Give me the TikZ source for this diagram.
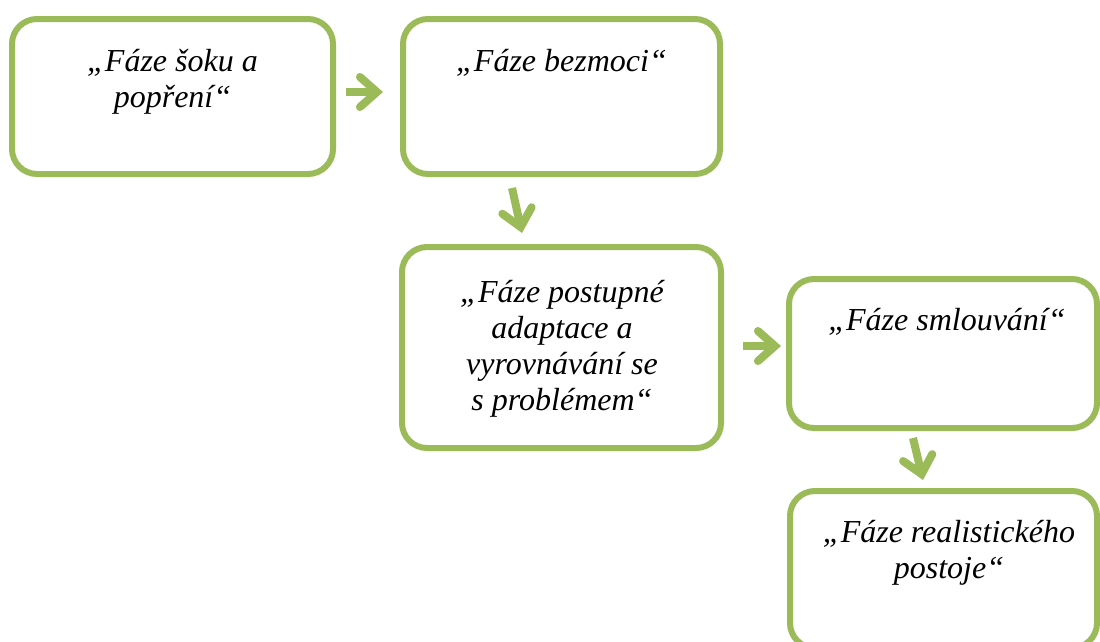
\documentclass[tikz,border=0pt]{standalone}
\usepackage{fontspec}
\setmainfont{Liberation Serif}
\usetikzlibrary{arrows.meta}
\definecolor{sgreen}{HTML}{9BBB59}
\tikzset{
  box/.style={draw=sgreen, line width=6pt, rounded corners=25pt, rectangle, outer sep=0pt, inner sep=0pt, fill=white},
  txt/.style={anchor=base, inner sep=0pt, font=\fontsize{32}{36}\selectfont\itshape},
  conn/.style={draw=sgreen, line width=8pt, -{Straight Barb[length=17pt,width=30pt,line join=miter,line cap=round]}}
}
\begin{document}
\begin{tikzpicture}[x=1pt,y=-1pt]
\useasboundingbox (0,0) rectangle (1100,641);
\clip (0,0) rectangle (1100,641);
\fill[white] (0,0) rectangle (1100,641);
% boxes
\node[box, minimum width=321pt, minimum height=155pt] (A) at (172.5,96.5) {};
\node[box, minimum width=317pt, minimum height=155pt] (B) at (561.5,96.5) {};
\node[box, minimum width=319pt, minimum height=201pt] (C) at (561.5,347.5) {};
\node[box, minimum width=308pt, minimum height=149pt] (D) at (943,353.5) {};
\node[box, minimum width=307pt, minimum height=157pt] (E) at (943.5,569.5) {};
% texts
\node[txt] (tA) at (172.5,71) {\begin{tabular}[t]{c}„Fáze šoku a\\ popření“\end{tabular}};
\node[txt] (tB) at (561.5,71) {\begin{tabular}[t]{c}„Fáze bezmoci“\end{tabular}};
\node[txt] (tC) at (562,302) {\begin{tabular}[t]{c}„Fáze postupné\\ adaptace a\\ vyrovnávání se\\ s~problémem“\end{tabular}};
\node[txt] (tD) at (947,330) {\begin{tabular}[t]{c}„Fáze smlouvání“\end{tabular}};
\node[txt] (tE) at (949,542) {\begin{tabular}[t]{c}„Fáze realistického\\ postoje“\end{tabular}};
% connectors
\draw[conn] ([xshift=13pt,yshift=4.5pt]A.east) -- ([xshift=-20pt,yshift=4.5pt]B.west);
\draw[conn] ([xshift=-49.5pt,yshift=-14pt]B.south) -- ([xshift=-39.5pt,yshift=14pt]C.north);
\draw[conn] ([xshift=22pt,yshift=1.5pt]C.east) -- ([xshift=-8pt,yshift=7.5pt]D.west);
\draw[conn] ([xshift=-30pt,yshift=-10pt]D.south) -- ([xshift=-20.5pt,yshift=11pt]E.north);
\end{tikzpicture}
\end{document}
